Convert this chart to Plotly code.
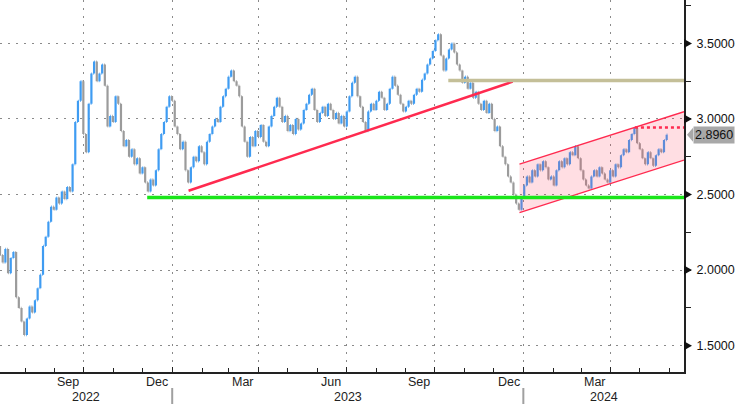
import plotly.graph_objects as go
import pandas as pd

# ---------------- data ----------------
closes = [
    2.10, 2.05, 2.14, 1.98, 2.08, 2.12, 1.82, 1.75, 1.66, 1.57,
    1.68, 1.76, 1.72, 1.80, 1.88, 1.97, 2.16, 2.22, 2.32, 2.42,
    2.40, 2.48, 2.44, 2.52, 2.47, 2.55, 2.52, 2.70, 2.98, 3.12,
    3.25, 2.90, 2.78, 3.10, 3.30, 3.38, 3.25, 3.30, 3.36, 3.22,
    2.95, 3.02, 2.98, 3.15, 3.10, 2.92, 2.82, 2.86, 2.75, 2.80,
    2.70, 2.74, 2.64, 2.68, 2.58, 2.52, 2.60, 2.56, 2.66, 2.80,
    2.90, 2.98, 3.08, 3.15, 3.12, 2.95, 2.90, 2.80, 2.85, 2.66,
    2.58, 2.68, 2.75, 2.72, 2.82, 2.78, 2.70, 2.85, 2.90, 2.95,
    3.00, 2.98, 3.08, 3.15, 3.20, 3.28, 3.32, 3.25, 3.22, 3.15,
    2.95, 2.85, 2.75, 2.88, 2.82, 2.92, 2.88, 2.96, 2.85, 2.82,
    2.95, 3.02, 3.08, 3.14, 3.08, 2.98, 3.02, 2.92, 2.96, 2.90,
    3.00, 2.93, 2.97, 3.06, 3.10, 3.16, 3.20, 3.06, 2.98, 3.04,
    3.08, 3.02, 3.10, 3.06, 3.00, 3.04, 2.97, 3.02, 2.95, 3.05,
    3.15, 3.24, 3.28, 3.15, 3.08, 2.98, 2.92, 3.05, 3.10, 3.06,
    3.12, 3.18, 3.14, 3.06, 3.10, 3.20, 3.28, 3.22, 3.16, 3.10,
    3.05, 3.08, 3.12, 3.10, 3.16, 3.20, 3.18, 3.26, 3.30, 3.36,
    3.40, 3.45, 3.52, 3.56, 3.42, 3.32, 3.40, 3.46, 3.50, 3.44,
    3.36, 3.32, 3.24, 3.28, 3.20, 3.24, 3.14, 3.18, 3.10, 3.06,
    3.12, 3.04, 3.10, 3.00, 2.92, 2.95, 2.82, 2.75, 2.70, 2.62,
    2.58, 2.50, 2.44, 2.40, 2.48, 2.56, 2.62, 2.58, 2.66, 2.62,
    2.70, 2.66, 2.72, 2.68, 2.60, 2.62, 2.56, 2.66, 2.72, 2.68,
    2.74, 2.70, 2.78, 2.76, 2.82, 2.74, 2.66, 2.60, 2.56, 2.54,
    2.62, 2.66, 2.62, 2.68, 2.64, 2.60, 2.58, 2.66, 2.62, 2.70,
    2.68, 2.76, 2.80, 2.78, 2.86, 2.90, 2.94, 2.84, 2.80, 2.74,
    2.70, 2.78, 2.74, 2.69, 2.76, 2.80, 2.78, 2.86, 2.896,
]
first_open = 2.16
start_date = "2022-07-06"
end_date = "2024-05-29"

x_range = ["2022-07-06", "2024-06-16"]
y_range = [1.326, 3.787]
y_major = [1.5, 2.0, 2.5, 3.0, 3.5]
quarter_grid = ["2022-10-01", "2023-01-01", "2023-04-01", "2023-07-01",
                "2023-10-01", "2024-01-01", "2024-04-01"]
month_labels = ["Sep", "Dec", "Mar", "Jun", "Sep", "Dec", "Mar"]
month_label_dates = ["2022-09-15", "2022-12-16", "2023-03-16", "2023-06-15",
                     "2023-09-15", "2023-12-17", "2024-03-16"]
year_labels = ["2022", "2023", "2024"]
year_bounds = ["2023-01-01", "2024-01-01"]

support_level = 2.48
support_start = "2022-12-06"
trend_dates = ["2023-01-18", "2023-12-21"]
trend_values = [2.525, 3.247]
resistance_level = 3.254
resistance_start = "2023-10-15"
channel_dates = ["2023-12-28", "2024-06-16"]
channel_upper = [2.702, 3.048]
channel_lower = [2.381, 2.728]
recent_high = 2.944
recent_high_start = "2024-04-26"
last_value = 2.896

# ---------------- styling ----------------
BLUE = "#3f9cf2"
GRAY = "#9b9b9b"
RED = "#ff2a4f"
GREEN = "#19e619"
KHAKI = "#c4bf98"
GRID = "#8a8a8a"
FONT = "Liberation Sans, Arial, sans-serif"

dates = pd.date_range(start_date, end_date, periods=len(closes))
opens = [first_open] + closes[:-1]
highs = [max(o, c) for o, c in zip(opens, closes)]
lows = [min(o, c) for o, c in zip(opens, closes)]

fig = go.Figure()

# channel fill
fig.add_trace(go.Scatter(
    x=[channel_dates[0], channel_dates[1], channel_dates[1], channel_dates[0], channel_dates[0]],
    y=[channel_upper[0], channel_upper[1], channel_lower[1], channel_lower[0], channel_upper[0]],
    fill="toself", fillcolor="rgba(255,60,90,0.17)", line=dict(width=0),
    mode="lines", hoverinfo="skip", showlegend=False))

fig.add_trace(go.Ohlc(
    x=dates, open=opens, high=highs, low=lows, close=closes,
    increasing=dict(line=dict(color=BLUE, width=2.2)),
    decreasing=dict(line=dict(color=GRAY, width=2.2)),
    tickwidth=0.25, hoverinfo="skip", showlegend=False))

def add_line(xs, ys, color, width, dash="solid"):
    fig.add_trace(go.Scatter(x=xs, y=ys, mode="lines",
                             line=dict(color=color, width=width, dash=dash),
                             hoverinfo="skip", showlegend=False))

add_line(channel_dates, channel_upper, RED, 1.3)
add_line(channel_dates, channel_lower, RED, 1.3)
add_line([support_start, x_range[1]], [support_level, support_level], GREEN, 3.5)
add_line(trend_dates, trend_values, RED, 2.5)
add_line([resistance_start, x_range[1]], [resistance_level, resistance_level], KHAKI, 3.5)
add_line([recent_high_start, x_range[1]], [recent_high, recent_high], RED, 2.5, "dot")

shapes = []
px_per_unit = 372 / (y_range[1] - y_range[0])
h = 4.5 / px_per_unit
for v in y_major:
    shapes.append(dict(type="path", xref="paper", yref="y",
                       path=f"M 1,{v + h} L {1 + 8/684},{v} L 1,{v - h} Z",
                       fillcolor="#111", line=dict(width=0)))
hb = 7 / px_per_unit
shapes.append(dict(type="path", xref="paper", yref="y",
                   path=f"M {1 + 3/684},{last_value} L {1 + 9/684},{last_value + hb} "
                        f"L {1 + 9/684},{last_value - hb} Z",
                   fillcolor="#a8a8a8", line=dict(width=0)))
for d in year_bounds:
    shapes.append(dict(type="line", xref="x", yref="paper", x0=d, x1=d,
                       y0=-16/372, y1=-32/372, line=dict(color="#a0a0a0", width=2)))

annotations = []
for d, t in zip(month_label_dates, month_labels):
    annotations.append(dict(x=d, xref="x", y=-10/372, yref="paper", text=t,
                            showarrow=False, xanchor="center", yanchor="middle",
                            font=dict(family=FONT, size=12.5, color="#222")))
xr = pd.to_datetime(x_range)
edges = [xr[0]] + list(pd.to_datetime(year_bounds)) + [xr[1]]
for i, t in enumerate(year_labels):
    mid = edges[i] + (edges[i + 1] - edges[i]) / 2
    annotations.append(dict(x=mid, xref="x", y=-25/372, yref="paper", text=t,
                            showarrow=False, xanchor="center", yanchor="middle",
                            font=dict(family=FONT, size=12.5, color="#222")))
annotations.append(dict(x=1 + 9/684, xref="paper", y=last_value, yref="y",
                        text=f"{last_value:.4f}", showarrow=False, xanchor="left",
                        yanchor="middle", bgcolor="#a8a8a8", borderpad=1,
                        font=dict(family=FONT, size=12.5, color="#111")))

fig.update_layout(
    width=736, height=404,
    margin=dict(l=0, r=52, t=0, b=32),
    paper_bgcolor="white", plot_bgcolor="white",
    showlegend=False,
    font=dict(family=FONT, size=12.5, color="#111"),
    shapes=shapes, annotations=annotations,
    xaxis=dict(type="date", range=x_range, rangeslider=dict(visible=False),
               tickmode="array", tickvals=quarter_grid, showticklabels=False,
               ticks="inside", ticklen=5, tickcolor="#222",
               showgrid=True, gridcolor=GRID, griddash="2px,6px", gridwidth=1,
               minor=dict(ticks="inside", ticklen=4, tickcolor="#222",
                          dtick="M1", tick0="2022-07-01", showgrid=False),
               showline=True, linecolor="#222", linewidth=2, zeroline=False),
    yaxis=dict(side="right", range=y_range, tickmode="array", tickvals=y_major,
               ticktext=[f"{v:.4f}" for v in y_major],
               ticks="outside", ticklen=8, tickcolor="rgba(0,0,0,0)",
               tickfont=dict(family=FONT, size=12.5, color="#111"),
               showgrid=True, gridcolor=GRID, griddash="2px,6px", gridwidth=1,
               minor=dict(ticks="outside", ticklen=5, dtick=0.25, tick0=1.25,
                          tickcolor="#222", showgrid=False),
               showline=True, linecolor="#222", linewidth=2, zeroline=False),
)

fig.write_html("out.html", config={"displayModeBar": False},
               post_script="document.body.style.margin='0';document.body.style.overflow='hidden';")
